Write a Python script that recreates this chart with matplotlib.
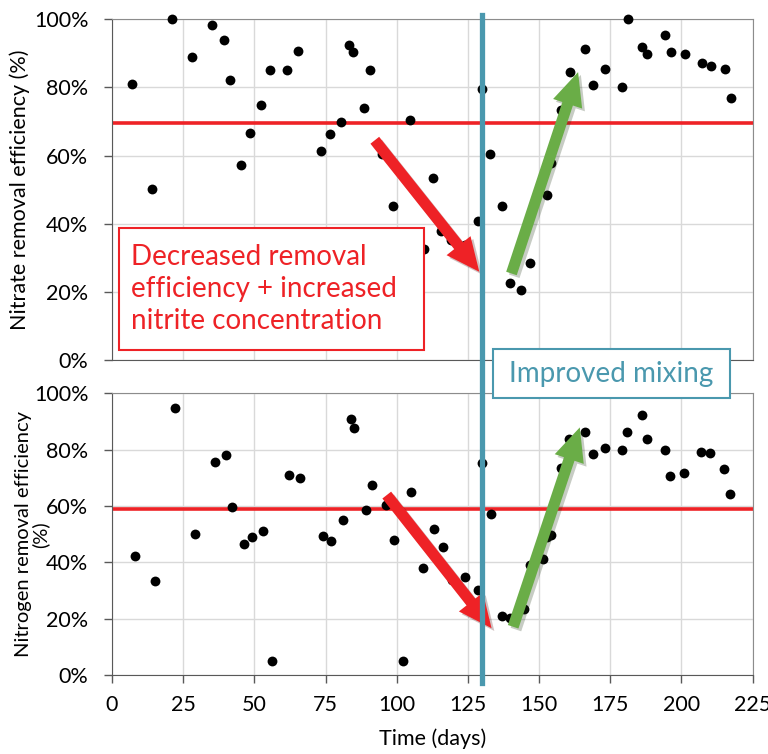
import matplotlib
matplotlib.use("Agg")
import matplotlib.pyplot as plt
from matplotlib.patches import Rectangle
from matplotlib.lines import Line2D
from matplotlib import transforms
import matplotlib.patheffects as pe

plt.rcParams['font.family'] = ['Lato', 'DejaVu Sans']

# nitrate removal efficiency (top panel)
nitrate_days = [7.0, 14.1, 21.1, 28.2, 35.3, 39.4, 41.4, 45.4, 48.3, 52.3, 55.4, 61.4, 65.4,
                73.5, 76.7, 80.4, 83.4, 84.5, 88.5, 90.5, 95.0, 98.6, 104.5, 109.7, 112.7,
                115.6, 119.1, 124.1, 128.5, 129.9, 132.8, 136.9, 139.8, 143.8, 146.7, 152.8,
                154.2, 157.8, 160.9, 166.1, 169.0, 173.1, 179.0, 181.2, 186.2, 188.0, 194.1,
                196.2, 201.1, 207.2, 210.3, 215.3, 217.3]
nitrate_eff = [81.1, 50.3, 100, 88.9, 98.3, 94.0, 82.1, 57.2, 66.5, 74.8, 85.1, 85.2, 90.7,
               61.3, 66.4, 69.8, 92.4, 90.4, 73.9, 85.1, 60.6, 45.3, 70.5, 32.6, 53.5,
               37.8, 35.2, 33.7, 40.9, 79.4, 60.6, 45.3, 22.5, 20.7, 28.4, 48.4,
               57.9, 73.3, 84.5, 91.2, 80.8, 85.5, 80.1, 100, 91.8, 89.9, 95.4,
               90.3, 89.8, 87.3, 86.3, 85.5, 76.8]
nitrate_avg = 69.5

# nitrogen removal efficiency (bottom panel)
nitrogen_days = [8.2, 15.2, 22.3, 29.3, 36.1, 40.2, 42.3, 46.2, 49.2, 53.2, 56.2, 62.2, 66.1,
                 74.0, 77.0, 81.0, 83.9, 85.0, 89.1, 91.2, 96.1, 99.1, 102.2, 105.1, 109.2,
                 113.2, 116.1, 119.3, 124.1, 128.6, 130.1, 133.2, 136.9, 139.8, 144.7, 146.7,
                 151.2, 152.8, 154.2, 157.6, 160.5, 166.1, 169.0, 173.0, 179.0, 181.0, 186.0,
                 188.0, 194.1, 196.0, 200.9, 206.9, 210.0, 215.0, 216.9]
nitrogen_eff = [42.2, 33.4, 94.9, 50.1, 75.7, 78.0, 59.8, 46.5, 49.0, 51.2, 5.1, 70.9, 69.9,
                49.5, 47.6, 55.1, 90.8, 87.6, 58.7, 67.6, 60.5, 47.9, 5.1, 65.0, 38.2,
                51.8, 45.6, 33.8, 35.0, 30.4, 75.4, 57.2, 21.0, 20.3, 23.4, 39.0,
                41.2, 49.0, 49.8, 73.4, 83.8, 86.2, 78.4, 80.6, 79.9, 86.2, 92.3,
                83.8, 79.8, 70.7, 71.6, 79.3, 78.9, 73.2, 64.4]
nitrogen_avg = 58.9

mixing_day = 130
x_ticks = [0, 25, 50, 75, 100, 125, 150, 175, 200, 225]
y_ticks = [0, 20, 40, 60, 80, 100]

RED = '#EE2226'
TEAL = '#4A98AE'
GREEN = '#6AAD47'

fig = plt.figure(figsize=(7.68, 7.54), dpi=100)
ax1 = fig.add_axes([0.1458, 0.5225, 0.8342, 0.4519])
ax2 = fig.add_axes([0.1458, 0.1044, 0.8342, 0.3740])

for ax, days, eff, avg in [(ax1, nitrate_days, nitrate_eff, nitrate_avg),
                           (ax2, nitrogen_days, nitrogen_eff, nitrogen_avg)]:
    ax.scatter(days, eff, s=50, color='black', zorder=3, clip_on=False, linewidths=0)
    ax.axhline(avg, color=RED, lw=2.6, zorder=2)
    ax.set_xlim(0, 225)
    ax.set_ylim(0, 100)
    ax.set_xticks(x_ticks)
    ax.set_yticks(y_ticks)
    ax.set_yticklabels([f"{t}%" for t in y_ticks])
    ax.grid(True, color='#d9d9d9', lw=1)
    ax.set_axisbelow(True)
    ax.tick_params(labelsize=15.5, color='#595959', length=6, width=1, pad=8)
    ax.tick_params(axis='y', pad=11)
    for side in ['left', 'bottom']:
        ax.spines[side].set_color('#595959')
    for side in ['top', 'right']:
        ax.spines[side].set_color('#8c8c8c')

ax1.tick_params(axis='x', length=0, labelbottom=False)
ax1.set_ylabel("Nitrate removal efficiency (%)", fontsize=15.5)
ax1.yaxis.set_label_coords(-0.128, 0.5)
ax2.set_ylabel("Nitrogen removal efficiency\n(%)", fontsize=14.5, linespacing=0.95)
ax2.yaxis.set_label_coords(-0.098, 0.5)
ax2.set_xlabel("Time (days)", fontsize=15.5, labelpad=10)

# arrows
shadow = [pe.withSimplePatchShadow(offset=(2, -2), alpha=0.25)]
arrows = [(ax1, (92.3, 64.5), (129.0, 25.9), RED),
          (ax1, (140.3, 25.4), (163.7, 84.5), GREEN),
          (ax2, (96.5, 63.9), (133.3, 16.7), RED),
          (ax2, (140.9, 17.2), (164.3, 87.9), GREEN)]
for ax, tail, tip, col in arrows:
    ann = ax.annotate("", xy=tip, xytext=tail, annotation_clip=False,
                      arrowprops=dict(width=8, headwidth=22, headlength=24,
                                      facecolor=col, edgecolor='none', shrink=0))
    ann.arrow_patch.set_path_effects(shadow)
    ann.set_zorder(5)

# vertical mixing line spanning both panels
trans = transforms.blended_transform_factory(ax1.transData, fig.transFigure)
fig.lines.append(Line2D([mixing_day, mixing_day], [0.980, 0.094], transform=trans,
                        color=TEAL, lw=3.8, zorder=6))

# text boxes
fig.patches.append(Rectangle((0.1549, 0.5358), 0.3971, 0.1618, transform=fig.transFigure,
                             facecolor='white', edgecolor=RED, lw=1.5, zorder=4))
fig.text(0.1706, 0.6167, "Decreased removal\nefficiency + increased\nnitrite concentration",
         color=RED, fontsize=20, va='center', ha='left', linespacing=1.3, zorder=7)

fig.patches.append(Rectangle((0.6419, 0.4721), 0.3086, 0.0650, transform=fig.transFigure,
                             facecolor='white', edgecolor=TEAL, lw=1.5, zorder=7))
fig.text(0.7962, 0.5046, "Improved mixing", color=TEAL, fontsize=20,
         va='center', ha='center', zorder=8)

fig.savefig("out.png", dpi=100)
